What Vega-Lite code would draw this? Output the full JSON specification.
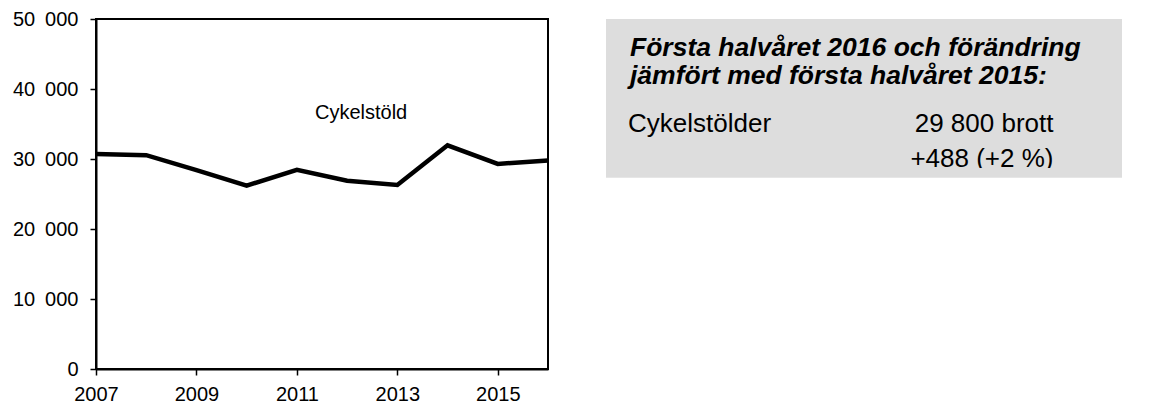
{
  "$schema": "https://vega.github.io/schema/vega-lite/v6.json",
  "background": "white",
  "padding": {"left": 11, "top": 8, "right": 5, "bottom": 5},
  "spacing": 48,
  "config": {"font": "Liberation Sans", "view": {"stroke": null}},
  "hconcat": [
    {
      "width": 452,
      "height": 350,
      "view": {"stroke": "#000", "strokeWidth": 2},
      "layer": [
        {
          "data": {"values": [
            {"year": 2007, "count": 30700},
            {"year": 2008, "count": 30550},
            {"year": 2009, "count": 28400},
            {"year": 2010, "count": 26200},
            {"year": 2011, "count": 28450},
            {"year": 2012, "count": 26900},
            {"year": 2013, "count": 26300},
            {"year": 2014, "count": 31950},
            {"year": 2015, "count": 29300},
            {"year": 2016, "count": 29800}
          ]},
          "mark": {"type": "line", "color": "#000", "strokeWidth": 4.5},
          "encoding": {
            "x": {
              "field": "year", "type": "quantitative",
              "scale": {"domain": [2007, 2016], "nice": false, "zero": false},
              "axis": {
                "values": [2007, 2009, 2011, 2013, 2015], "format": "d", "title": null, "grid": false,
                "labelFontSize": 20, "labelColor": "#000", "labelPadding": 9, "labelFlush": false,
                "tickSize": 6, "tickWidth": 1.5, "tickColor": "#000",
                "domainColor": "#000", "domainWidth": 2
              }
            },
            "y": {
              "field": "count", "type": "quantitative",
              "scale": {"domain": [0, 50000], "nice": false},
              "axis": {
                "values": [0, 10000, 20000, 30000, 40000, 50000], "title": null, "grid": false,
                "labelExpr": "replace(format(datum.value, ','), ',', '\u2002')",
                "labelFontSize": 20, "labelColor": "#000", "labelPadding": 12,
                "tickSize": 6, "tickWidth": 1.5, "tickColor": "#000",
                "domainColor": "#000", "domainWidth": 2
              }
            }
          }
        },
        {
          "data": {"values": [{"label": "Cykelstöld"}]},
          "mark": {"type": "text", "align": "left", "baseline": "alphabetic", "fontSize": 20, "color": "#000"},
          "encoding": {
            "x": {"datum": 2011.36, "type": "quantitative"},
            "y": {"datum": 35670, "type": "quantitative"},
            "text": {"field": "label"}
          }
        }
      ]
    },
    {
      "width": 516,
      "height": 350,
      "layer": [
        {
          "data": {"values": [{"panel": "box"}]},
          "mark": {"type": "rect", "color": "#dddddd"},
          "encoding": {
            "x": {"datum": 0, "type": "quantitative", "scale": {"domain": [0, 516], "nice": false, "zero": false}, "axis": null},
            "x2": {"datum": 516},
            "y": {"datum": 0, "type": "quantitative", "scale": {"domain": [0, 350], "reverse": true, "nice": false}, "axis": null},
            "y2": {"datum": 158.5}
          }
        },
        {
          "data": {"values": [{"t": "Första halvåret 2016 och förändring"}]},
          "mark": {"type": "text", "align": "left", "baseline": "alphabetic", "fontSize": 26.5, "fontStyle": "italic", "fontWeight": "bold", "color": "#000"},
          "encoding": {"x": {"datum": 24, "type": "quantitative"}, "y": {"datum": 36.5, "type": "quantitative"}, "text": {"field": "t"}}
        },
        {
          "data": {"values": [{"t": "jämfört med första halvåret 2015:"}]},
          "mark": {"type": "text", "align": "left", "baseline": "alphabetic", "fontSize": 26.5, "fontStyle": "italic", "fontWeight": "bold", "color": "#000"},
          "encoding": {"x": {"datum": 24, "type": "quantitative"}, "y": {"datum": 64.8, "type": "quantitative"}, "text": {"field": "t"}}
        },
        {
          "data": {"values": [{"t": "Cykelstölder"}]},
          "mark": {"type": "text", "align": "left", "baseline": "alphabetic", "fontSize": 26, "color": "#000"},
          "encoding": {"x": {"datum": 22, "type": "quantitative"}, "y": {"datum": 113.2, "type": "quantitative"}, "text": {"field": "t"}}
        },
        {
          "data": {"values": [{"t": "29 800 brott"}]},
          "mark": {"type": "text", "align": "right", "baseline": "alphabetic", "fontSize": 26, "color": "#000"},
          "encoding": {"x": {"datum": 447.5, "type": "quantitative"}, "y": {"datum": 113.2, "type": "quantitative"}, "text": {"field": "t"}}
        },
        {
          "data": {"values": [{"t": "+488 (+2 %)"}]},
          "mark": {"type": "text", "align": "right", "baseline": "alphabetic", "fontSize": 26, "color": "#000"},
          "encoding": {"x": {"datum": 447.5, "type": "quantitative"}, "y": {"datum": 148.2, "type": "quantitative"}, "text": {"field": "t"}}
        },
        {
          "data": {"values": [{"panel": "clip"}]},
          "mark": {"type": "rect", "color": "#dddddd"},
          "encoding": {
            "x": {"datum": 0, "type": "quantitative"},
            "x2": {"datum": 516},
            "y": {"datum": 149.0, "type": "quantitative"},
            "y2": {"datum": 158.5}
          }
        }
      ]
    }
  ]
}
